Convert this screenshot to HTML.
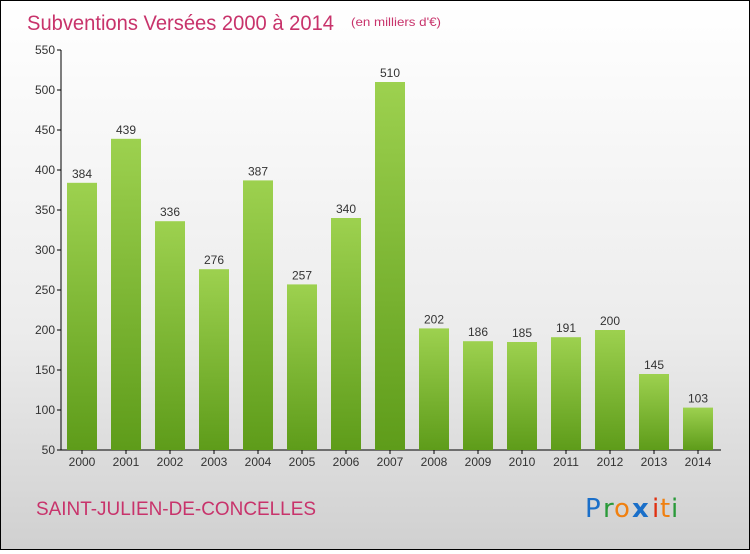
<!DOCTYPE html>
<html><head><meta charset="utf-8"><style>
html,body{margin:0;padding:0}
body{width:750px;height:550px;overflow:hidden;font-family:"Liberation Sans",sans-serif}
#wrap{position:relative;width:748px;height:548px;border:1px solid #000;background:linear-gradient(#ffffff,#ececec 60%,#d0d0d0)}
</style></head><body>
<div id="wrap">
<svg id="chart" width="748" height="548">
<defs><linearGradient id="bg" x1="0" y1="0" x2="0" y2="1"><stop offset="0" stop-color="#9dd14f"/><stop offset="1" stop-color="#5e9c1a"/></linearGradient></defs>
<text x="26" y="29" font-size="21" textLength="307" lengthAdjust="spacingAndGlyphs" fill="#c8336b">Subventions Versées 2000 à 2014</text>
<text x="350" y="25" font-size="12" textLength="90" lengthAdjust="spacingAndGlyphs" fill="#c8336b">(en milliers d'€)</text>
<text x="35" y="514" font-size="19" textLength="280" lengthAdjust="spacingAndGlyphs" fill="#c8336b">SAINT-JULIEN-DE-CONCELLES</text>
<g font-size="26" font-family="'DejaVu Sans',sans-serif">
<text x="584" y="516" fill="#1a6fc9">P</text><text x="602" y="516" fill="#2a9a3a">r</text><text x="613" y="516" fill="#f08010">o</text><text x="631" y="516" fill="#1a6fc9" font-weight="bold">x</text><text x="651" y="516" fill="#e03010">i</text><text x="659" y="516" fill="#f08010">t</text><text x="670" y="516" fill="#2a9a3a">i</text>
</g>
<g id="axes"></g><g id="bars"></g>
</svg>
</div>
<script>
const years=["2000","2001","2002","2003","2004","2005","2006","2007","2008","2009","2010","2011","2012","2013","2014"];
const values=[384,439,336,276,387,257,340,510,202,186,185,191,200,145,103];
const yTicks=[50,100,150,200,250,300,350,400,450,500,550];
const NS="http://www.w3.org/2000/svg";
const y0=449,yMin=50,yMax=550,yTop=49;
function yScale(v){return y0-(v-yMin)/(yMax-yMin)*(y0-yTop);}
function xScale(i){return 81+i*44;}
function mk(t,a,p){const e=document.createElementNS(NS,t);for(const k in a)e.setAttribute(k,a[k]);p.appendChild(e);return e;}
const ax=document.getElementById('axes'),bs=document.getElementById('bars');
const yl=mk('line',{x1:60,y1:yTop,x2:60,y2:y0,stroke:'#000'},ax);


const xl=mk('line',{x1:60,y1:y0,x2:720,y2:y0,stroke:'#000'},ax);


yTicks.forEach(v=>{const y=yScale(v);
mk('line',{x1:56,y1:y,x2:60,y2:y,stroke:'#000'},ax);
const t=mk('text',{x:54,y:y+4,'text-anchor':'end','font-size':12,fill:'#333'},ax);t.textContent=v;

});
years.forEach((yr,i)=>{const cx=xScale(i),v=values[i],y=yScale(v);
const r=mk('rect',{x:cx-15,y:y,width:30,height:y0-y,fill:'url(#bg)'},bs);


const l=mk('text',{x:cx,y:y-5,'text-anchor':'middle','font-size':12,fill:'#333'},bs);l.textContent=v;


mk('line',{x1:cx,y1:y0,x2:cx,y2:y0+4,stroke:'#000'},ax);
const xt=mk('text',{x:cx,y:y0+16,'text-anchor':'middle','font-size':12,fill:'#333'},ax);xt.textContent=yr;

});
</script>
</body></html>
